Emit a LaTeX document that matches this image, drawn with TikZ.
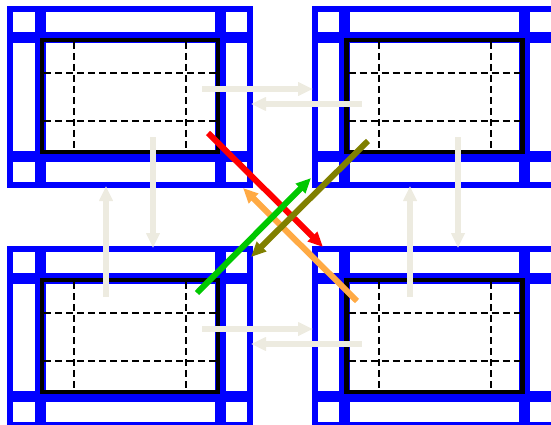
\documentclass[tikz,border=0pt]{standalone}
\usetikzlibrary{arrows.meta}
\definecolor{beige}{RGB}{237,235,224}
\definecolor{myblue}{RGB}{0,0,255}
\definecolor{mygreen}{RGB}{0,200,0}
\definecolor{myolive}{RGB}{128,128,0}
\definecolor{myorange}{RGB}{255,170,68}
\tikzset{
  outerframe/.style={draw=myblue,line width=6pt},
  blueband/.style={draw=myblue,line width=11pt},
  blackbox/.style={draw=black,line width=4.5pt},
  gridline/.style={draw=black,line width=2pt,dash pattern=on 7pt off 4pt},
  flow/.style={draw=beige,line width=6pt,-{Triangle[length=15pt,width=13pt]}},
  diag/.style={line width=6pt,-{Triangle[length=15pt,width=13pt]}},
}
\begin{document}
\begin{tikzpicture}[x=1pt,y=-1pt]
\useasboundingbox (0,0) rectangle (551,425);
\foreach \dx/\dy in {0/0,304.5/0,0/240,304.5/240}{
  \begin{scope}[shift={(\dx,\dy)}]
    \draw[blueband] (40,9) -- (40,184.5);
    \draw[blueband] (220,9) -- (220,184.5);
    \draw[blueband] (10,38) -- (250,38);
    \draw[blueband] (10,156) -- (250,156);
    \draw[outerframe] (10,9) rectangle (250,184.5);
    \draw[gridline] (74,42) -- (74,150);
    \draw[gridline] (186,42) -- (186,150);
    \draw[gridline] (44,73) -- (216,73);
    \draw[gridline] (44,121) -- (216,121);
    \draw[blackbox] (42,40) rectangle (218,152);
  \end{scope}
}
% beige flow arrows
\coordinate (a1s) at (202,89);  \coordinate (a1e) at (313,89);
\coordinate (a2s) at (362,104); \coordinate (a2e) at (251,104);
\coordinate (a3s) at (153,137); \coordinate (a3e) at (153,248);
\coordinate (a4s) at (106,297); \coordinate (a4e) at (106,186);
\coordinate (a5s) at (410,297); \coordinate (a5e) at (410,186);
\coordinate (a6s) at (458,137); \coordinate (a6e) at (458,248);
\coordinate (a7s) at (202,329); \coordinate (a7e) at (313,329);
\coordinate (a8s) at (362,344); \coordinate (a8e) at (251,344);
\foreach \n in {1,...,8}{\draw[flow] (a\n s) -- (a\n e);}
% diagonal arrows
\coordinate (rs) at (208,133); \coordinate (re) at (323,247);
\coordinate (os) at (368,141); \coordinate (oe) at (251,257);
\coordinate (gs) at (197,293); \coordinate (ge) at (311,178);
\coordinate (ys) at (357,301); \coordinate (ye) at (243,188);
\draw[diag,draw=myorange,fill=myorange,color=myorange] (ys) -- (ye);
\draw[diag,color=red] (rs) -- (re);
\draw[diag,color=mygreen] (gs) -- (ge);
\draw[diag,color=myolive] (os) -- (oe);
\end{tikzpicture}
\end{document}
